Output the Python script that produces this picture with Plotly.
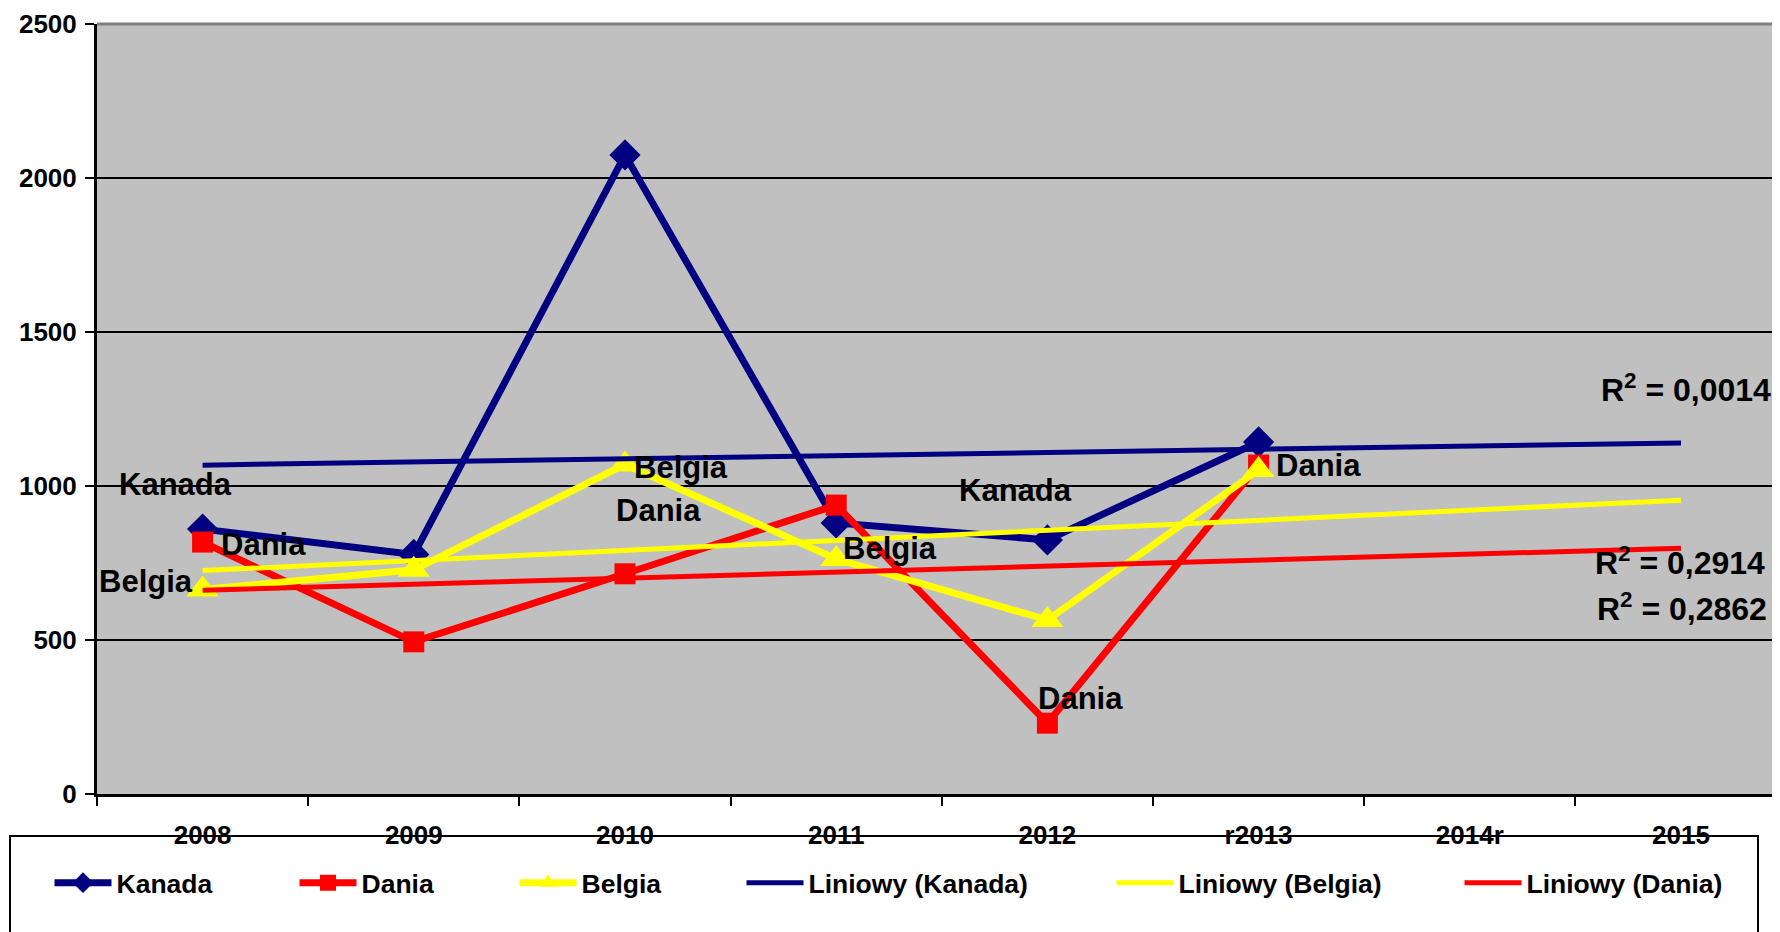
import numpy as np
import plotly.graph_objects as go

# ---- data ----
categories = ["2008", "2009", "2010", "2011", "2012", "r2013", "2014r", "2015"]
kanada = [860, 778, 2075, 880, 825, 1143, None, None]
dania = [818, 494, 715, 938, 230, 1068, None, None]
belgia = [664, 728, 1070, 763, 565, 1052, None, None]
r2_labels = ["R<sup>2</sup> = 0,0014", "R<sup>2</sup> = 0,2914", "R<sup>2</sup> = 0,2862"]

NAVY = "#000080"
RED = "#FF0000"
YEL = "#FFFF00"
FONT = "Liberation Sans, Arial, sans-serif"

PW = 1683.0  # plot width in px
PH = 770.0   # plot height in px


def trend(vals):
    xs = [i for i, v in enumerate(vals) if v is not None]
    ys = [v for v in vals if v is not None]
    a, b = np.polyfit(xs, ys, 1)
    return [float(a * i + b) for i in range(len(categories))]


fig = go.Figure()

series = [
    ("Kanada", kanada, NAVY, "diamond", 24, "legend"),
    ("Dania", dania, RED, "square", 21, "legend2"),
    ("Belgia", belgia, YEL, "triangle-up", 28, "legend3"),
]
for name, vals, col, sym, sz, lg in series:
    fig.add_trace(go.Scatter(
        x=categories, y=vals, name=name, mode="lines+markers",
        line=dict(color=col, width=7),
        marker=dict(symbol=sym, size=sz, color=col, line=dict(width=0)),
        legend=lg,
    ))

trends = [
    ("Liniowy (Kanada)", kanada, NAVY, "legend4"),
    ("Liniowy (Belgia)", belgia, YEL, "legend5"),
    ("Liniowy (Dania)", dania, RED, "legend6"),
]
for name, vals, col, lg in trends:
    fig.add_trace(go.Scatter(
        x=categories, y=trend(vals), name=name, mode="lines",
        line=dict(color=col, width=5), legend=lg,
    ))

# data labels (series names) anchored to points
labels = [
    ("Kanada", "2008", kanada, -27, 45),
    ("Dania", "2008", dania, 61, -2),
    ("Belgia", "2008", belgia, -57, 8),
    ("Belgia", "2010", belgia, 56, -3),
    ("Dania", "2010", dania, 33, 63),
    ("Belgia", "2011", belgia, 54, 11),
    ("Kanada", "2012", kanada, -32, 49),
    ("Dania", "2012", dania, 33, 25),
    ("Dania", "r2013", dania, 60, 0),
]
for txt, cat, vals, dx, dy in labels:
    i = categories.index(cat)
    fig.add_annotation(x=i, y=vals[i], text=txt, showarrow=False, xshift=dx, yshift=dy,
                       font=dict(family=FONT, size=31, color="black", weight="bold"))

r2_y = [1318, 756, 607]
r2_dx = [92, 86, 88]
for t, yy, dx in zip(r2_labels, r2_y, r2_dx):
    fig.add_annotation(x=categories.index("2015"), y=yy, text=t, showarrow=False,
                       xanchor="right", xshift=dx,
                       font=dict(family=FONT, size=32, color="black", weight="bold"))

# top border of plot area
fig.add_shape(type="line", xref="paper", yref="paper", x0=0, x1=1, y0=1, y1=1,
              line=dict(color="#808080", width=3))
# legend box
fig.add_shape(type="rect", xref="paper", yref="paper",
              x0=(10 - 97) / PW, x1=(1758 - 97) / PW,
              y0=(794 - 836) / PH, y1=(794 - 960) / PH,
              line=dict(color="black", width=2), fillcolor="rgba(0,0,0,0)", layer="below")

leg_x = [54, 299, 519, 746, 1116, 1464]
leg_common = dict(orientation="h", yanchor="middle", xanchor="left", y=(794 - 883) / PH,
                  bgcolor="rgba(0,0,0,0)", borderwidth=0, itemwidth=57,
                  font=dict(family=FONT, size=26.5, color="black", weight="bold"))
legends = {}
for i, px in enumerate(leg_x):
    key = "legend" if i == 0 else f"legend{i + 1}"
    legends[key] = dict(x=(px - 97 - 4.5) / PW, **leg_common)

# page body has an 8px margin: shift the figure accordingly
fig.update_layout(
    width=1772, height=924,
    margin=dict(l=89, r=0, t=16, b=138),
    paper_bgcolor="white", plot_bgcolor="#C0C0C0",
    font=dict(family=FONT, color="black"),
    showlegend=True,
    **legends,
)
fig.update_xaxes(
    type="category", categoryorder="array", categoryarray=categories,
    range=[-0.5, -0.5 + PW / 211.2], tickson="boundaries", ticks="outside", ticklen=9,
    tickwidth=2, tickcolor="black", showline=True, linecolor="black", linewidth=3,
    showgrid=False,
    tickfont=dict(family=FONT, size=26, color="black", weight="bold"),
    ticklabelstandoff=16,
)
fig.update_yaxes(
    range=[0, 2500], dtick=500, tick0=0, showgrid=True, gridcolor="black", gridwidth=2,
    zeroline=False, showline=True, linecolor="black", linewidth=3,
    ticks="outside", ticklen=9, tickwidth=2, tickcolor="black",
    tickfont=dict(family=FONT, size=26, color="black", weight="bold"),
    ticklabelstandoff=3,
)

fig.write_html("out.html")
